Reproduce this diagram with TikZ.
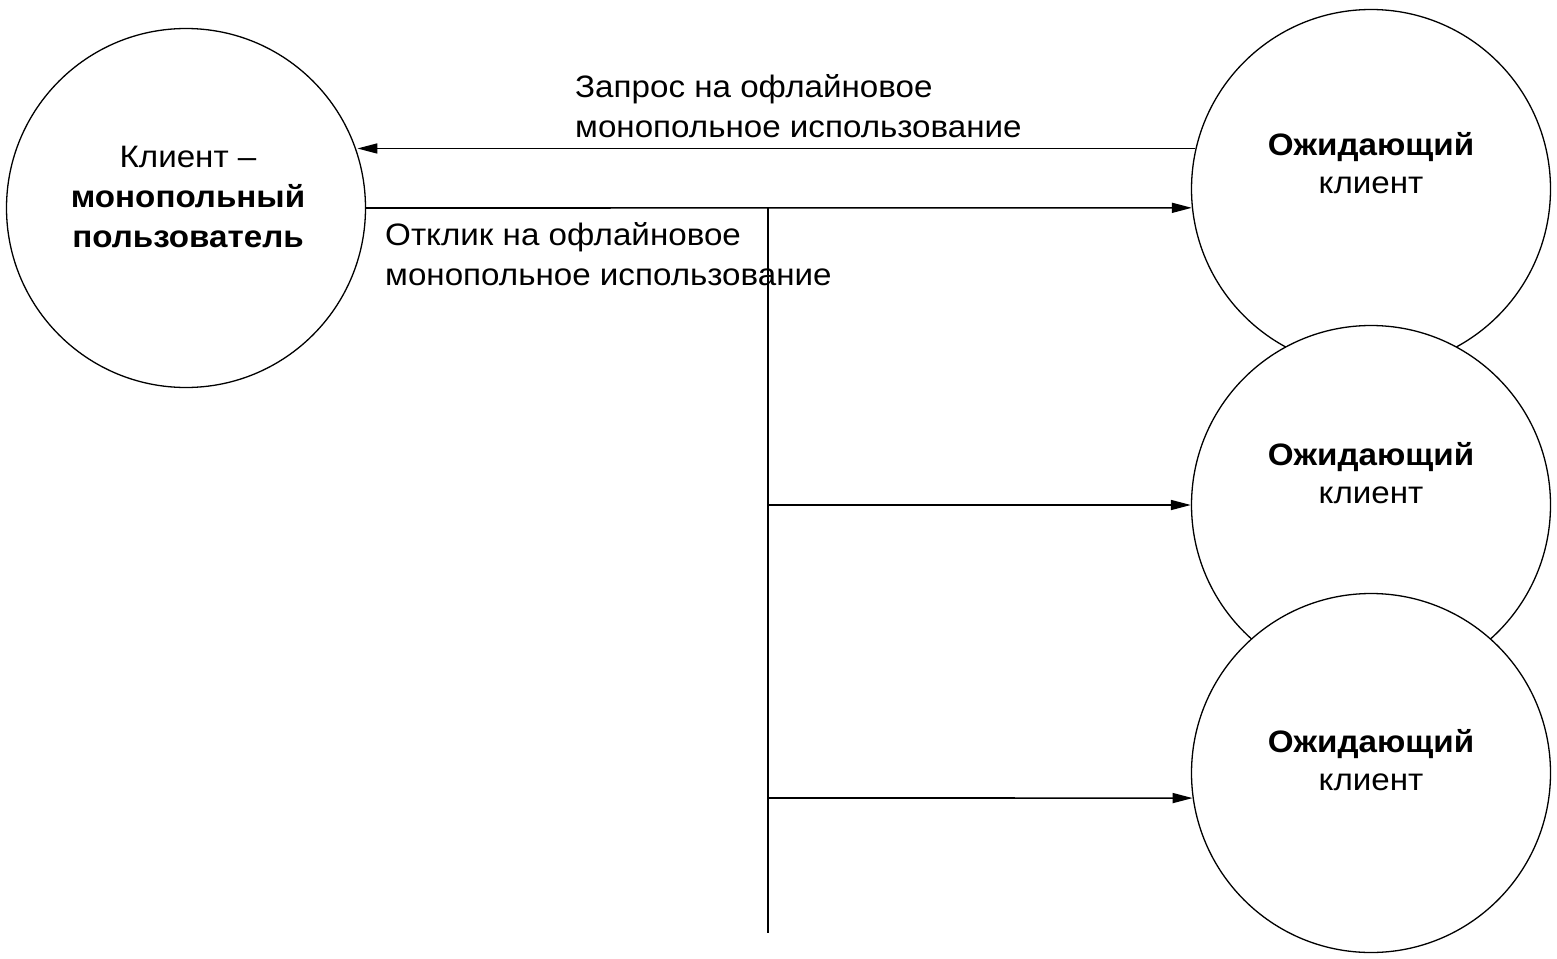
\documentclass[tikz,border=0pt]{standalone}
\usepackage{fontspec}
\setmainfont{Liberation Sans}[FakeStretch=1.07]
\usetikzlibrary{arrows.meta}
\begin{document}
\begin{tikzpicture}[x=1pt,y=-1pt,
  font=\fontsize{31}{40}\selectfont,
  bubble/.style={circle,draw,line width=1.3pt,fill=white,minimum size=359pt,inner sep=0pt},
  txt/.style={align=center,inner sep=0pt,anchor=base},
  ctxt/.style={txt,font=\fontsize{31}{38}\selectfont},
  lbl/.style={align=left,inner sep=0pt,anchor=base west},
  arr/.style={line width=1.6pt,-{Triangle[length=20pt,width=10pt]}},
  ln/.style={line width=1.4pt}]
\useasboundingbox (0,0) rectangle (1557,958);
\node[bubble] (L) at (186,208) {};
\node[bubble] (W1) at (1371,189) {};
\node[bubble] (W2) at (1371,505) {};
\node[bubble] (W3) at (1371,773) {};
\node[txt] (Lt) at (188,247) {Клиент –\\\textbf{монопольный}\\\textbf{пользователь}};
\node[ctxt] (W1t) at (1371,193) {\textbf{Ожидающий}\\клиент};
\node[ctxt] (W2t) at (1371,503) {\textbf{Ожидающий}\\клиент};
\node[ctxt] (W3t) at (1371,790) {\textbf{Ожидающий}\\клиент};
\node[lbl] (req) at (575,137) {Запрос на офлайновое\\монопольное использование};
\node[lbl] (resp) at (385,285) {Отклик на офлайновое\\монопольное использование};
\coordinate (J0) at (768,208);
\coordinate (J1) at (768,505);
\coordinate (J2) at (768,798);
\coordinate (Jend) at (768,933);
\coordinate (Lin) at (L.18.8);
\draw[arr] (W1.167.4) -- (W1.167.4 -| Lin);
\draw[arr] (L.east) -- (W1.186.1);
\draw[ln] (J0) -- (Jend);
\draw[arr] (J1) -- (W2.west);
\draw[arr] (J2) -- (W3.188);
\end{tikzpicture}
\end{document}
